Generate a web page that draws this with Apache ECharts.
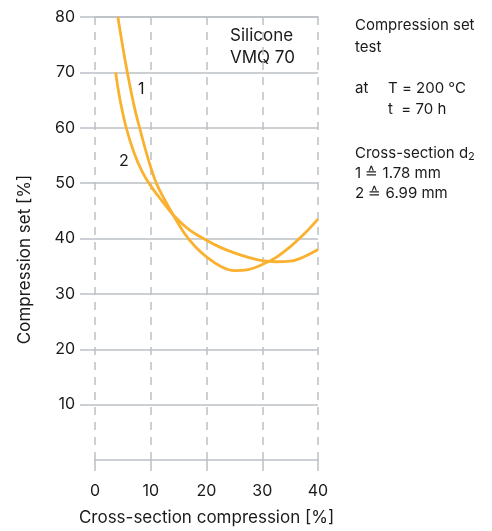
<!DOCTYPE html>
<html>
<head>
<meta charset="utf-8">
<script src="https://cdn.jsdelivr.net/npm/echarts@6/dist/echarts.min.js"></script>
<style>
html,body{margin:0;padding:0;background:#fff;}
#c{width:492px;height:531px;}
</style>
</head>
<body>
<div id="c"></div>
<script>
// Curve 1: cross-section d2 = 1.78 mm
const curve1X = [4.1, 5, 5.8, 7, 8, 9.5, 11, 12.5, 14, 16, 18, 20, 22.5, 25, 27.5, 30, 32.5, 35, 37.5, 40];
const curve1Y = [80, 74.5, 70, 64, 60, 54.5, 50, 47, 44.3, 41, 38.5, 36.7, 35.0, 34.2, 34.4, 35.3, 36.6, 38.5, 40.8, 43.5];
// Curve 2: cross-section d2 = 6.99 mm
const curve2X = [3.7, 4.5, 5.6, 7, 8.5, 10, 12, 14, 17, 20, 22.5, 25, 27.5, 30, 32.5, 35, 37.5, 40];
const curve2Y = [70, 65, 60, 55.5, 52, 49.5, 46.8, 44.3, 41.5, 39.7, 38.4, 37.4, 36.6, 36.0, 35.8, 35.9, 36.7, 38.0];
const xTicks = [0, 10, 20, 30, 40];
const yTicks = [10, 20, 30, 40, 50, 60, 70, 80];
const curveLabels = ['1', '2'];
const curveLabelPos = [[8.3, 66.9], [5.2, 54.0]];

const FONT = 'Inter';
const TXT = '#1a1a1a';
const GRID = '#bcc0c5';
const ORANGE = '#FAB12F';

function pairs(xs, ys) { return xs.map((x, i) => [x, ys[i]]); }

const chart = echarts.init(document.getElementById('c'), null, {renderer: 'canvas'});
chart.setOption({
  animation: false,
  textStyle: {fontFamily: FONT},
  grid: {left: 95, right: 174, top: 17, bottom: 64},
  xAxis: [{
    type: 'value', min: 0, max: 40, interval: 10,
    name: 'Cross-section compression [%]', nameLocation: 'middle', nameGap: 49,
    nameTextStyle: {fontFamily: FONT, fontSize: 17, color: TXT},
    axisLine: {show: true, lineStyle: {color: GRID, width: 1.5}},
    axisTick: {show: true, length: 11, lineStyle: {color: GRID, width: 1.5}},
    axisLabel: {margin: 23, fontFamily: FONT, fontSize: 16, color: TXT, customValues: xTicks},
    splitLine: {show: true, lineStyle: {color: GRID, width: 1.5, type: [8, 7]}}
  }, {
    type: 'value', position: 'top', min: 0, max: 40, interval: 10,
    axisLine: {show: true, lineStyle: {color: GRID, width: 1.5}},
    axisTick: {show: false}, axisLabel: {show: false}, splitLine: {show: false}
  }],
  yAxis: {
    type: 'value', min: 0, max: 80, interval: 10,
    name: 'Compression set [%]', nameLocation: 'middle', nameGap: 62,
    nameTextStyle: {fontFamily: FONT, fontSize: 17, color: TXT, padding: [0, 42, 0, 0]},
    axisLine: {show: false},
    axisTick: {show: true, length: 15, customValues: yTicks, lineStyle: {color: GRID, width: 1.5}},
    axisLabel: {margin: 20, fontFamily: FONT, fontSize: 16, color: TXT, customValues: yTicks},
    splitLine: {show: true, lineStyle: {color: GRID, width: 1.5}}
  },
  series: [
    {
      type: 'line', xAxisIndex: 0, data: pairs(curve1X, curve1Y), smooth: 0.4, symbol: 'none',
      lineStyle: {color: ORANGE, width: 2.8}, z: 3,
      markPoint: {
        symbol: 'circle', symbolSize: 0, itemStyle: {color: 'transparent'},
        label: {show: true, formatter: '{b}', fontFamily: FONT, fontSize: 16, color: TXT},
        data: [{name: curveLabels[0], coord: curveLabelPos[0]}]
      }
    },
    {
      type: 'line', xAxisIndex: 0, data: pairs(curve2X, curve2Y), smooth: 0.4, symbol: 'none',
      lineStyle: {color: ORANGE, width: 2.8}, z: 3,
      markPoint: {
        symbol: 'circle', symbolSize: 0, itemStyle: {color: 'transparent'},
        label: {show: true, formatter: '{b}', fontFamily: FONT, fontSize: 16, color: TXT},
        data: [{name: curveLabels[1], coord: curveLabelPos[1]}]
      }
    }
  ],
  graphic: [
    {type: 'text', left: 230, top: 25, style: {text: 'Silicone\nVMQ 70', fontFamily: FONT, fontSize: 17, lineHeight: 22, fill: TXT}},
    {type: 'text', left: 355, top: 14, style: {text: 'Compression set\ntest', fontFamily: FONT, fontSize: 15, lineHeight: 22, fill: TXT}},
    {type: 'text', left: 355, top: 78, style: {text: 'at', fontFamily: FONT, fontSize: 15, lineHeight: 21, fill: TXT}},
    {type: 'text', left: 388, top: 78, style: {text: 'T = 200 °C\nt  = 70 h', fontFamily: FONT, fontSize: 15, lineHeight: 21, fill: TXT}},
    {type: 'text', left: 355, top: 143, style: {
      text: 'Cross-section d{s|2}\n1 ≙ 1.78 mm\n2 ≙ 6.99 mm',
      fontFamily: FONT, fontSize: 15, lineHeight: 20, fill: TXT,
      rich: {s: {fontFamily: FONT, fontSize: 11, padding: [8, 0, 0, 0], fill: TXT}}
    }}
  ]
});
</script>
</body>
</html>
